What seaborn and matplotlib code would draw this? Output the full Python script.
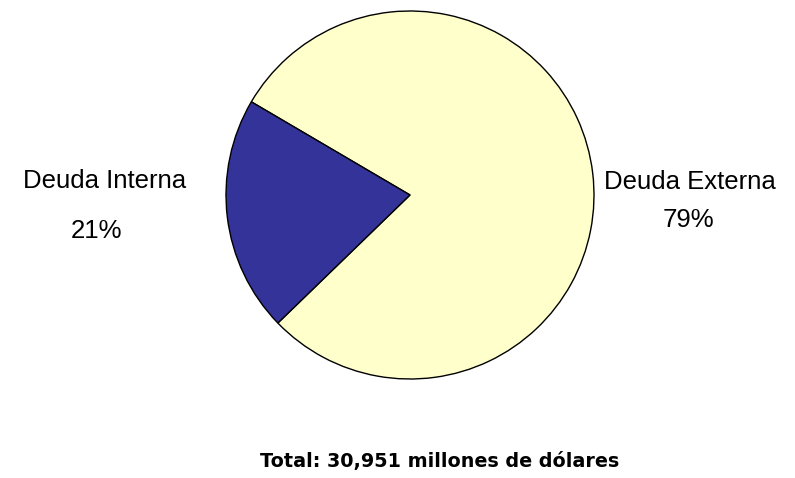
import matplotlib
matplotlib.use("Agg")
import matplotlib.pyplot as plt
import seaborn as sns

# Data
labels = ["Deuda Externa", "Deuda Interna"]
values = [79.3, 20.7]
colors = ["#FFFFCC", "#333399"]
total_text = "Total: 30,951 millones de dólares"

sns.set_theme(style="white")
plt.rcParams["font.family"] = ["Liberation Sans", "DejaVu Sans"]
plt.rcParams["text.color"] = "black"

W, H = 795, 478
fig = plt.figure(figsize=(W / 100, H / 100), dpi=100)
ax = fig.add_axes([0, 0, 1, 1])

ax.pie(values, colors=colors, startangle=224.1, counterclock=True,
       center=(410, H - 195), radius=184,
       wedgeprops=dict(edgecolor="black", linewidth=1.0))
ax.set_xlim(0, W)
ax.set_ylim(0, H)
ax.set_aspect("equal")
ax.axis("off")

pct = [f"{round(v / sum(values) * 100):.0f}%" for v in values]

# Externa label (right side)
ax.text(690, H - 182, labels[0], ha="center", va="center", fontsize=18.5, color="black")
ax.text(688, H - 220, pct[0], ha="center", va="center", fontsize=18.5, color="black")
# Interna label (left side)
ax.text(105, H - 181, labels[1], ha="center", va="center", fontsize=18.5, color="black")
ax.text(97, H - 231, pct[1], ha="center", va="center", fontsize=18.5, color="black")

# footer is wide but short in the original, DejaVu bold fits better
ax.text(440, H - 462, total_text, ha="center", va="center",
        fontsize=13.8, fontweight="bold", color="black", family="DejaVu Sans")

fig.savefig("out.png", dpi=100)
plt.close(fig)
